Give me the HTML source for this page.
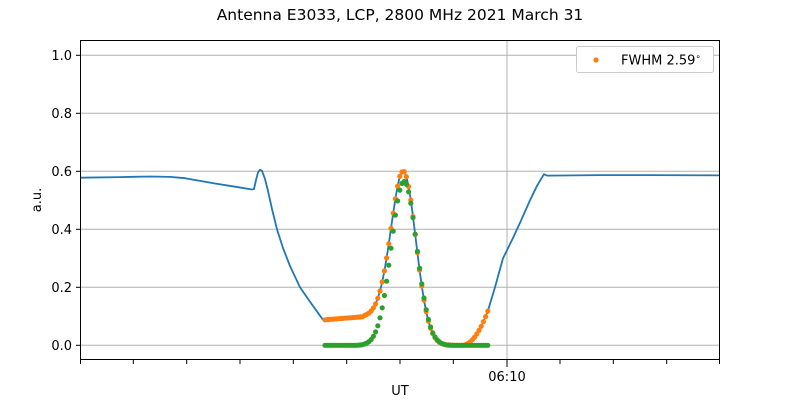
<!DOCTYPE html>
<html><head><meta charset="utf-8"><style>
body{margin:0;background:#fff;width:800px;height:400px;overflow:hidden}
text{font-family:"DejaVu Sans","Liberation Sans",sans-serif;fill:#000}
</style></head><body>
<svg width="800" height="400" xmlns="http://www.w3.org/2000/svg">
<rect width="800" height="400" fill="#fff"/>
<g stroke="#b0b0b0" stroke-width="1">
<line x1="80" x2="720" y1="345.3" y2="345.3"/>
<line x1="80" x2="720" y1="287.3" y2="287.3"/>
<line x1="80" x2="720" y1="229.3" y2="229.3"/>
<line x1="80" x2="720" y1="171.3" y2="171.3"/>
<line x1="80" x2="720" y1="113.3" y2="113.3"/>
<line x1="80" x2="720" y1="55.3" y2="55.3"/>
<line x1="507" x2="507" y1="40" y2="360"/>
</g>
<path fill="none" stroke="#1f77b4" stroke-width="1.8" stroke-linejoin="round" d="M80,177.7L120,177.1L150,176.5L170,176.9L185,178.2L195,180.0L215,183.5L235,186.7L252,189.5L254,189.0L256,180L258,172.5L260,169.8L262,170.8L265,179L268,191L272,209L277,229.3L283,248L290,266L300,287.3L310,301.8L323,319.8L325,319.8L362.4,316.8L364.6,315.4L366.8,314.4L369,313.0L371.2,310.9L373.4,307.9L375.6,303.8L377.8,298.2L380,291.0L382.2,281.9L384.4,270.9L386.6,258.0L388.8,243.7L391,228.4L393.2,213.1L395.4,198.8L397.6,186.1L399.8,176.4L402,171.9L404.2,171.6L406.4,176.7L408.6,186.5L410.8,200.0L413,216.5L415.2,234.5L417.4,252.7L419.6,270.2L421.8,286.1L424,300.2L426.2,311.7L428.4,321.1L430.6,328.3L432.8,333.8L435,337.6L437.2,340.5L439.4,342.3L441.6,343.5L443.8,344.3L450,345.1L462,345.3L465.8,344.5L468,343.4L470.2,341.8L472.4,339.7L474.6,337.1L476.8,334.0L479,330.4L481.2,326.3L483.4,321.7L485.6,316.6L487.8,311.1L495,287.3L503,258.3L513,238.0L521,220.6L530,200.3L537,185.8L544,174.2L547,175.6L600,175.1L650,175.1L720,175.4"/>
<path fill="none" stroke="#ff7f0e" stroke-width="5.2" stroke-linecap="round" d="M325 319.8h0M327.2 319.6h0M329.4 319.4h0M331.6 319.3h0M333.8 319.1h0M336 318.9h0M338.2 318.7h0M340.4 318.5h0M342.6 318.4h0M344.8 318.2h0M347 318.0h0M349.2 317.8h0M351.4 317.7h0M353.6 317.5h0M355.8 317.3h0M358 317.1h0M360.2 316.9h0M362.4 316.8h0M364.6 315.4h0M366.8 314.4h0M369 313.0h0M371.2 310.9h0M373.4 307.9h0M375.6 303.8h0M377.8 298.2h0M380 291.0h0M382.2 281.9h0M384.4 270.9h0M386.6 258.0h0M388.8 243.7h0M391 228.4h0M393.2 213.1h0M395.4 198.8h0M397.6 186.1h0M399.8 176.4h0M402 171.9h0M404.2 171.6h0M406.4 176.7h0M408.6 186.5h0M410.8 200.0h0M413 216.5h0M415.2 234.5h0M417.4 252.7h0M419.6 270.2h0M421.8 286.1h0M424 300.2h0M426.2 311.7h0M428.4 321.1h0M430.6 328.3h0M432.8 333.8h0M435 337.6h0M437.2 340.5h0M439.4 342.3h0M441.6 343.5h0M443.8 344.3h0M446 344.7h0M448.2 344.9h0M450.4 345.0h0M452.6 345.1h0M454.8 345.2h0M457 345.2h0M459.2 345.3h0M461.4 345.3h0M463.6 345.2h0M465.8 344.5h0M468 343.4h0M470.2 341.8h0M472.4 339.7h0M474.6 337.1h0M476.8 334.0h0M479 330.4h0M481.2 326.3h0M483.4 321.7h0M485.6 316.6h0M487.8 311.1h0"/>
<path fill="none" stroke="#2ca02c" stroke-width="5.2" stroke-linecap="round" d="M325 345.3h0M327.2 345.3h0M329.4 345.3h0M331.6 345.3h0M333.8 345.3h0M336 345.3h0M338.2 345.3h0M340.4 345.3h0M342.6 345.3h0M344.8 345.3h0M347 345.3h0M349.2 345.3h0M351.4 345.3h0M353.6 345.3h0M355.8 345.3h0M358 345.2h0M360.2 345.0h0M362.4 344.7h0M364.6 344.0h0M366.8 343.0h0M369 341.6h0M371.2 339.5h0M373.4 336.3h0M375.6 331.9h0M377.8 325.8h0M380 317.8h0M382.2 307.8h0M384.4 295.5h0M386.6 281.2h0M388.8 265.2h0M391 248.2h0M393.2 231.1h0M395.4 215.1h0M397.6 200.9h0M399.8 190.1h0M402 183.4h0M404.2 181.5h0M406.4 184.3h0M408.6 191.8h0M410.8 203.2h0M413 217.7h0M415.2 234.2h0M417.4 251.4h0M419.6 268.2h0M421.8 283.9h0M424 298.0h0M426.2 309.7h0M428.4 319.4h0M430.6 327.0h0M432.8 332.8h0M435 337.0h0M437.2 339.9h0M439.4 341.9h0M441.6 343.3h0M443.8 344.1h0M446 344.8h0M448.2 345.1h0M450.4 345.3h0M452.6 345.3h0M454.8 345.3h0M457 345.3h0M459.2 345.3h0M461.4 345.3h0M463.6 345.3h0M465.8 345.3h0M468 345.3h0M470.2 345.3h0M472.4 345.3h0M474.6 345.3h0M476.8 345.3h0M479 345.3h0M481.2 345.3h0M483.4 345.3h0M485.6 345.3h0M487.8 345.3h0"/>
<rect x="80.5" y="40.5" width="639" height="319" fill="none" stroke="#000" stroke-width="1"/>
<g stroke="#000" stroke-width="1">
<line x1="76" x2="80" y1="345.3" y2="345.3"/><line x1="76" x2="80" y1="287.3" y2="287.3"/><line x1="76" x2="80" y1="229.3" y2="229.3"/><line x1="76" x2="80" y1="171.3" y2="171.3"/><line x1="76" x2="80" y1="113.3" y2="113.3"/><line x1="76" x2="80" y1="55.3" y2="55.3"/>
<line x1="80.5" x2="80.5" y1="360" y2="364"/><line x1="133.3" x2="133.3" y1="360" y2="364"/><line x1="186.7" x2="186.7" y1="360" y2="364"/><line x1="240" x2="240" y1="360" y2="364"/><line x1="293.3" x2="293.3" y1="360" y2="364"/><line x1="346.7" x2="346.7" y1="360" y2="364"/><line x1="400" x2="400" y1="360" y2="364"/><line x1="453.3" x2="453.3" y1="360" y2="364"/><line x1="507" x2="507" y1="360" y2="367"/><line x1="560" x2="560" y1="360" y2="364"/><line x1="613.3" x2="613.3" y1="360" y2="364"/><line x1="666.7" x2="666.7" y1="360" y2="364"/><line x1="719.5" x2="719.5" y1="360" y2="364"/>
</g>
<g font-size="13" text-anchor="end">
<text x="72" y="349.8">0.0</text><text x="72" y="291.8">0.2</text><text x="72" y="233.8">0.4</text><text x="72" y="175.8">0.6</text><text x="72" y="117.8">0.8</text><text x="72" y="59.8">1.0</text>
</g>
<text x="400" y="20" font-size="15.5" text-anchor="middle">Antenna E3033, LCP, 2800 MHz 2021 March 31</text>
<text x="400" y="395" font-size="13" text-anchor="middle">UT</text>
<text transform="translate(41,200) rotate(-90)" font-size="13" text-anchor="middle">a.u.</text>
<text x="507" y="381" font-size="13" text-anchor="middle">06:10</text>
<rect x="576.5" y="46.5" width="137" height="26" rx="2" fill="#fff" stroke="#ccc"/>
<circle cx="596" cy="60" r="2.6" fill="#ff7f0e"/>
<text x="621" y="64.5" font-size="13">FWHM 2.59<tspan dy="-5" font-size="9">∘</tspan></text>
</svg>
</body></html>
